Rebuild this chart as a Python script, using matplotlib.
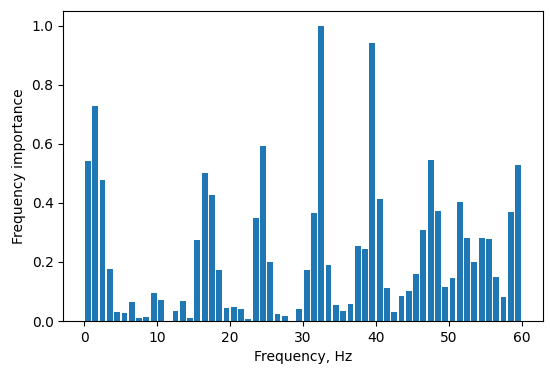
import numpy as np
import matplotlib
matplotlib.use("Agg")
import matplotlib.pyplot as plt

# frequency bins (Hz) and their importance
freqs = np.arange(60) + 0.5
importance = [0.540, 0.729, 0.478, 0.176, 0.029, 0.027, 0.064, 0.011, 0.015, 0.095,
              0.072, 0.0, 0.035, 0.067, 0.011, 0.273, 0.500, 0.428, 0.172, 0.045,
              0.046, 0.040, 0.006, 0.349, 0.592, 0.199, 0.023, 0.017, 0.0, 0.040,
              0.174, 0.365, 1.000, 0.189, 0.055, 0.034, 0.058, 0.254, 0.243, 0.941,
              0.412, 0.112, 0.029, 0.084, 0.101, 0.159, 0.307, 0.545, 0.371, 0.115,
              0.147, 0.402, 0.282, 0.199, 0.282, 0.279, 0.148, 0.080, 0.369, 0.528]

fig = plt.figure(figsize=(5.5, 3.72), dpi=100)
ax = fig.add_subplot(1, 1, 1)
ax.bar(freqs, importance, width=0.8, color='#1f77b4')
ax.set(xlabel='Frequency, Hz', ylabel='Frequency importance')
plt.subplots_adjust(left=0.115, right=0.987, top=0.971, bottom=0.137)

fig.savefig('out.png', dpi=100)
